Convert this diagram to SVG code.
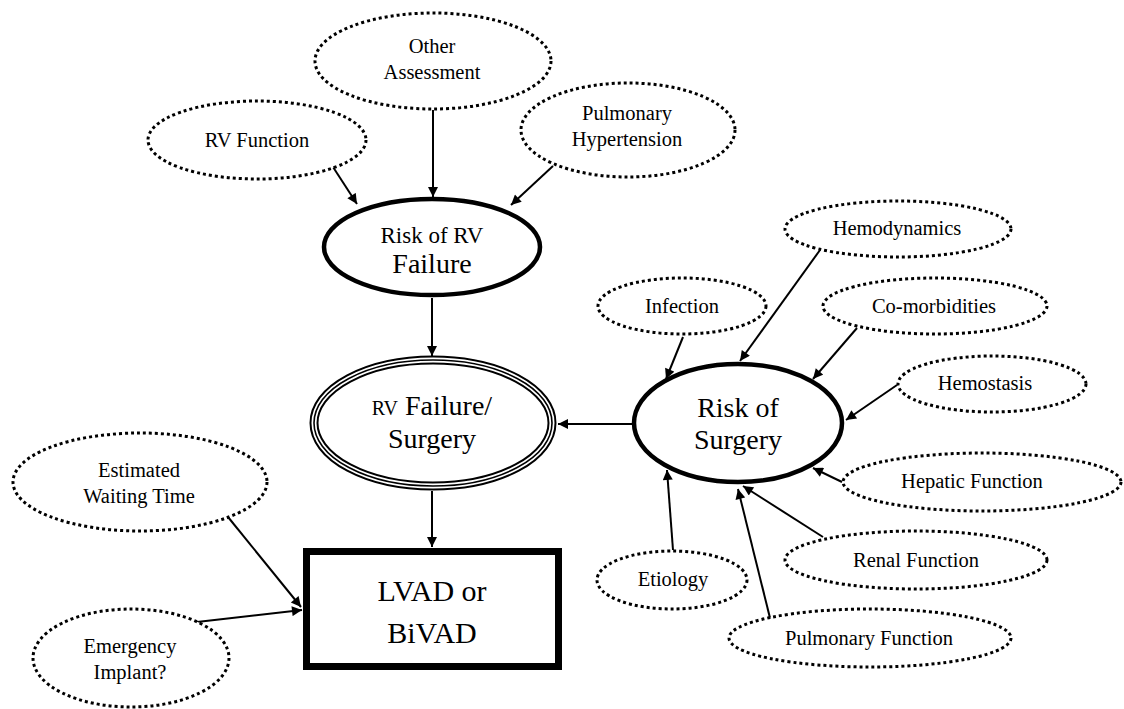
<svg xmlns="http://www.w3.org/2000/svg" width="1124" height="709" viewBox="0 0 1124 709">
<style>
.dot{fill:#fff;stroke:#000;stroke-width:3;stroke-dasharray:3 3}
.bold{fill:#fff;stroke:#000;stroke-width:4.5}
text{font-family:'Liberation Serif','Times New Roman',serif;fill:#000;text-anchor:middle}
.t{font-size:20.5px}
.m{font-size:28px}
.e{stroke:#000;stroke-width:2;fill:none;marker-end:url(#ah)}
</style>
<defs>
<marker id="ah" viewBox="0 0 10 10" refX="10" refY="5" markerWidth="6" markerHeight="5" markerUnits="strokeWidth" orient="auto">
<path d="M0,0 L10,5 L0,10 z" fill="#000"/>
</marker>
</defs>
<rect width="1124" height="709" fill="#fff"/>
<g id="connectors">
<line class="e" x1="333" y1="167" x2="357" y2="204"/>
<line class="e" x1="433" y1="110" x2="433" y2="197"/>
<line class="e" x1="553" y1="166" x2="511" y2="205"/>
<line class="e" x1="432" y1="298" x2="432" y2="356"/>
<line class="e" x1="633" y1="424" x2="558" y2="424"/>
<line class="e" x1="432" y1="491" x2="432" y2="547"/>
<line class="e" x1="228" y1="517" x2="301" y2="607"/>
<line class="e" x1="197" y1="622" x2="302" y2="610"/>
<line class="e" x1="683" y1="337" x2="666" y2="379"/>
<line class="e" x1="820" y1="250" x2="740" y2="361"/>
<line class="e" x1="857" y1="328" x2="813" y2="379"/>
<line class="e" x1="897" y1="385" x2="846" y2="420"/>
<line class="e" x1="842" y1="482" x2="813" y2="468"/>
<line class="e" x1="823" y1="537" x2="743" y2="486"/>
<line class="e" x1="770" y1="618" x2="738" y2="489"/>
<line class="e" x1="673" y1="550" x2="667" y2="470"/>
</g>
<g id="other-assessment">
<ellipse class="dot" cx="433" cy="61" rx="118" ry="48"/>
<text class="t" x="432" y="53">Other</text>
<text class="t" x="432" y="79">Assessment</text>
</g>
<g id="rv-function">
<ellipse class="dot" cx="257" cy="140" rx="109" ry="39"/>
<text class="t" x="257" y="147">RV Function</text>
</g>
<g id="pulmonary-hypertension">
<ellipse class="dot" cx="628" cy="130" rx="107" ry="47"/>
<text class="t" x="627" y="120">Pulmonary</text>
<text class="t" x="627" y="146">Hypertension</text>
</g>
<g id="risk-rv-failure">
<ellipse class="bold" cx="432" cy="247" rx="108" ry="48"/>
<text x="432" y="243" style="font-size:23px">Risk of RV</text>
<text class="m" x="432" y="273">Failure</text>
</g>
<g id="rv-failure-surgery">
<ellipse cx="433" cy="423" rx="119" ry="63" fill="#fff" stroke="#000" stroke-width="9"/>
<ellipse cx="433" cy="423" rx="119" ry="63" fill="none" stroke="#fff" stroke-width="5"/>
<ellipse cx="433" cy="423" rx="119" ry="63" fill="none" stroke="#000" stroke-width="1.6"/>
<text class="m" x="432" y="415"><tspan style="font-size:20px">RV</tspan> Failure/</text>
<text class="m" x="432" y="448">Surgery</text>
</g>
<g id="risk-surgery">
<ellipse class="bold" cx="738" cy="423" rx="104" ry="59"/>
<text class="m" x="738" y="417">Risk of</text>
<text class="m" x="738" y="449">Surgery</text>
</g>
<g id="lvad">
<rect x="306.5" y="551.5" width="252" height="115" fill="#fff" stroke="#000" stroke-width="7"/>
<text x="432" y="601" style="font-size:30px">LVAD or</text>
<text x="432" y="643" style="font-size:30px">BiVAD</text>
</g>
<g id="estimated-waiting-time">
<ellipse class="dot" cx="140" cy="482" rx="127" ry="49"/>
<text class="t" x="139" y="477">Estimated</text>
<text class="t" x="139" y="503">Waiting Time</text>
</g>
<g id="emergency-implant">
<ellipse class="dot" cx="131" cy="658" rx="98" ry="49"/>
<text class="t" x="130" y="653">Emergency</text>
<text class="t" x="130" y="679">Implant?</text>
</g>
<g id="hemodynamics">
<ellipse class="dot" cx="898" cy="229" rx="113" ry="28"/>
<text class="t" x="897" y="235">Hemodynamics</text>
</g>
<g id="infection">
<ellipse class="dot" cx="682" cy="306" rx="84" ry="28"/>
<text class="t" x="682" y="313">Infection</text>
</g>
<g id="co-morbidities">
<ellipse class="dot" cx="935" cy="306" rx="112" ry="28"/>
<text class="t" x="934" y="313">Co-morbidities</text>
</g>
<g id="hemostasis">
<ellipse class="dot" cx="992" cy="384" rx="94" ry="28"/>
<text class="t" x="985" y="390">Hemostasis</text>
</g>
<g id="hepatic-function">
<ellipse class="dot" cx="982" cy="482" rx="139" ry="29"/>
<text class="t" x="972" y="488">Hepatic Function</text>
</g>
<g id="renal-function">
<ellipse class="dot" cx="916" cy="560" rx="131" ry="29"/>
<text class="t" x="916" y="567">Renal Function</text>
</g>
<g id="etiology">
<ellipse class="dot" cx="672" cy="580" rx="75" ry="29"/>
<text class="t" x="673" y="586">Etiology</text>
</g>
<g id="pulmonary-function">
<ellipse class="dot" cx="870" cy="638" rx="141" ry="29"/>
<text class="t" x="869" y="645">Pulmonary Function</text>
</g>
</svg>
